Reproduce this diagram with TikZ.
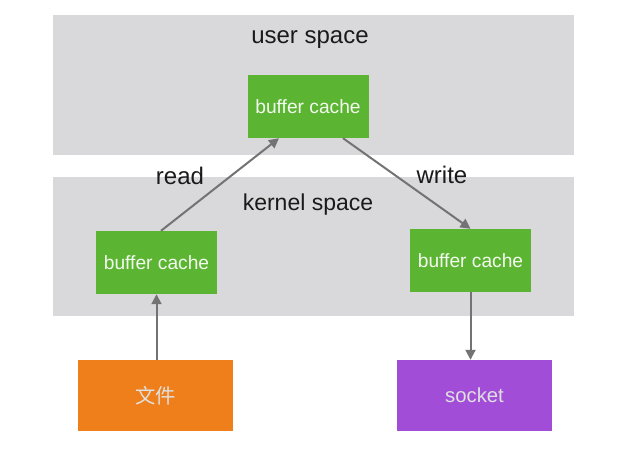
\documentclass[tikz,border=0pt]{standalone}
\usepackage{fontspec}
\setmainfont{Liberation Sans}
\newfontfamily\cjk{Noto Sans CJK SC}
\usetikzlibrary{arrows.meta,calc}
\definecolor{bandgray}{HTML}{D9D9DB}
\definecolor{boxgreen}{HTML}{5CB532}
\definecolor{boxorange}{HTML}{EE7F1A}
\definecolor{boxpurple}{HTML}{A14DD8}
\definecolor{arrowgray}{HTML}{737373}
\definecolor{labelblack}{HTML}{1A1A1A}
\begin{document}
\begin{tikzpicture}[x=1pt,y=-1pt,
  band/.style={fill=bandgray,draw=none,minimum width=521pt,inner sep=0pt},
  cachebox/.style={fill=boxgreen,draw=none,minimum width=121pt,minimum height=63pt,inner sep=0pt,text=white!92!boxgreen,font=\fontsize{19.2}{21}\selectfont},
  srcbox/.style={draw=none,minimum width=155pt,minimum height=71pt,inner sep=0pt,text=white!88!black,font=\fontsize{20.3}{22}\selectfont},
  lbl/.style={text=labelblack,font=\fontsize{24}{26}\selectfont,inner sep=0pt},
  flow/.style={draw=arrowgray,line width=2pt,-{Triangle[length=10pt,width=10pt]}}]
\useasboundingbox[fill=white] (0,0) rectangle (633,457);
\node[band,minimum height=140pt] (user) at (313.5,85) {};
\node[band,minimum height=139pt] (kernel) at (313.5,246.5) {};
\node[lbl] (ulbl) at (310,40) {user space};
\node[lbl,font=\fontsize{23}{25}\selectfont] (klbl) at (308,205) {kernel space};
\node[cachebox] (tb) at (308,106.5) {buffer cache};
\node[cachebox] (lb) at (156.5,262.5) {buffer cache};
\node[cachebox] (rb) at (470.5,260.5) {buffer cache};
\node[srcbox,fill=boxorange] (file) at (155.5,395.5) {\cjk 文件};
\node[srcbox,fill=boxpurple] (sock) at (474.5,395.5) {socket};
\node[lbl] (rlbl) at (180,176) {read};
\node[lbl] (wlbl) at (442,175) {write};
\draw[flow] ($(lb.north)+(4.5,0)$) -- ($(tb.south)+(-29,0)$);
\draw[flow] ($(tb.south)+(35,0)$) -- (rb.north);
\draw[flow] (lb.south |- file.north) -- (lb.south);
\draw[flow] (rb.south) -- (rb.south |- sock.north);
\end{tikzpicture}
\end{document}
